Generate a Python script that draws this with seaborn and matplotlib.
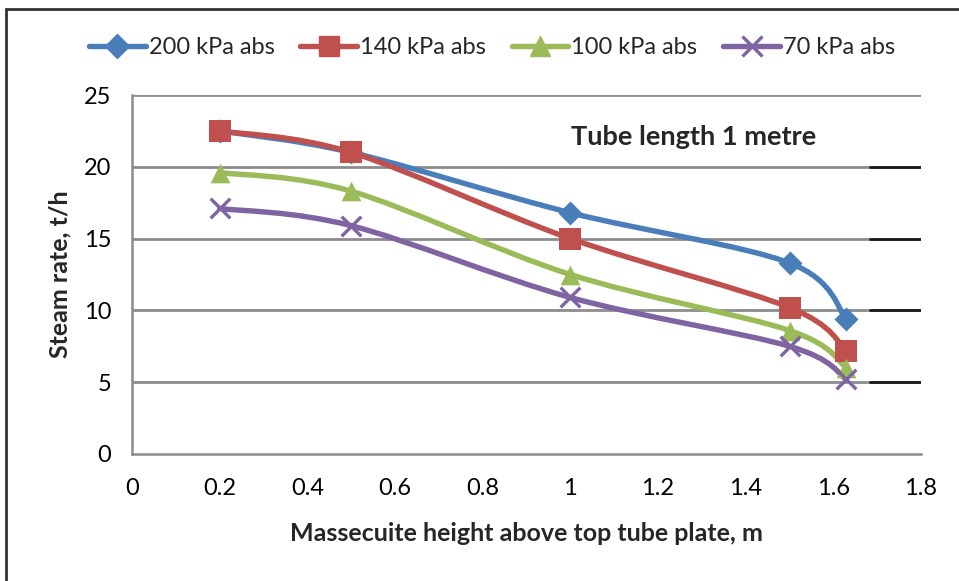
import numpy as np
import pandas as pd
import matplotlib
matplotlib.use("Agg")
import matplotlib.pyplot as plt
from matplotlib.path import Path
from matplotlib.patches import PathPatch, Rectangle
from matplotlib.lines import Line2D
import seaborn as sns

# Massecuite height above top tube plate (m)
heights = [0.2, 0.5, 1.0, 1.5, 1.63]

# Steam rate (t/h) for each absolute pressure
series_names = ["200 kPa abs", "140 kPa abs", "100 kPa abs", "70 kPa abs"]
steam_200 = [22.5, 21.0, 16.8, 13.3, 9.4]
steam_140 = [22.5, 21.0, 15.0, 10.2, 7.2]
steam_100 = [19.6, 18.3, 12.5, 8.6, 6.0]
steam_70 = [17.1, 15.9, 10.9, 7.5, 5.2]

x_ticks = [0, 0.2, 0.4, 0.6, 0.8, 1, 1.2, 1.4, 1.6, 1.8]
x_tick_labels = ["0", "0.2", "0.4", "0.6", "0.8", "1", "1.2", "1.4", "1.6", "1.8"]
y_ticks = [0, 5, 10, 15, 20, 25]

colors = ["#4A7EBB", "#C0504D", "#9BBB59", "#8064A2"]
markers = ["D", "s", "^", "x"]
marker_sizes = [150, 240, 200, 200]

rows = []
for name, vals in zip(series_names, [steam_200, steam_140, steam_100, steam_70]):
    for h, v in zip(heights, vals):
        rows.append({"series": name, "height": h, "steam": v})
df = pd.DataFrame(rows)

sns.set_theme(style="white")
plt.rcParams["font.family"] = ["Lato", "DejaVu Sans"]

fig = plt.figure(figsize=(9.59, 5.81), dpi=100)
ax = fig.add_axes([132 / 959, 1 - 454 / 581, 789 / 959, 359 / 581])

grid_col = "#8C8C8C"
ax.set_xlim(0, 1.8)
ax.set_ylim(0, 25)
ax.set_yticks(y_ticks)
ax.set_xticks(x_ticks)
ax.set_xticklabels(x_tick_labels)
for y in y_ticks[1:]:
    ax.axhline(y, color=grid_col, lw=2.0, zorder=0.5)
# darker ends of the gridlines near the right edge
for y in y_ticks[1:-1]:
    ax.axhline(y, xmin=1.684 / 1.8, xmax=1.0, color="#1A1A1A", lw=2.0, zorder=0.6)

for side in ["top", "right"]:
    ax.spines[side].set_visible(False)
for side in ["left", "bottom"]:
    ax.spines[side].set_color(grid_col)
    ax.spines[side].set_linewidth(1.8)
ax.tick_params(axis="both", which="major", direction="out", length=7, width=1.2,
               color=grid_col, labelsize=17, labelcolor="black")
ax.tick_params(axis="y", pad=8)
ax.tick_params(axis="x", pad=10)


def smooth_path(xs, ys):
    """Cubic Bezier path through the points (Catmull-Rom style control points)."""
    pts = np.column_stack([xs, ys]).astype(float)
    n = len(pts)
    verts = [pts[0]]
    codes = [Path.MOVETO]
    for i in range(n - 1):
        p0 = pts[i - 1] if i > 0 else pts[i]
        p1 = pts[i]
        p2 = pts[i + 1]
        p3 = pts[i + 2] if i + 2 < n else pts[i + 1]
        c1 = p1 + (p2 - p0) / 6.0
        c2 = p2 - (p3 - p1) / 6.0
        verts += [c1, c2, p2]
        codes += [Path.CURVE4] * 3
    return Path(verts, codes)


for i, (name, col) in enumerate(zip(series_names, colors)):
    sub = df[df["series"] == name]
    patch = PathPatch(smooth_path(sub["height"].values, sub["steam"].values),
                      facecolor="none", edgecolor=col, lw=3.9, zorder=2 + i * 0.1,
                      capstyle="round", joinstyle="round")
    ax.add_patch(patch)

for i, (name, col, mk, ms) in enumerate(zip(series_names, colors, markers, marker_sizes)):
    sub = df[df["series"] == name]
    if mk == "x":
        sns.scatterplot(data=sub, x="height", y="steam", marker=mk, s=ms, color=col,
                        linewidth=2.4, ax=ax, zorder=3 + i * 0.1, legend=False)
    else:
        sns.scatterplot(data=sub, x="height", y="steam", marker=mk, s=ms, color=col,
                        edgecolor=col, linewidth=0, ax=ax, zorder=3 + i * 0.1, legend=False)

ax.set_xlabel("Massecuite height above top tube plate, m", fontsize=18,
              fontweight="bold", labelpad=17)
ax.set_ylabel("Steam rate, t/h", fontsize=18, fontweight="bold", labelpad=9)

ax.text(1.001, 22.1, "Tube length 1 metre", fontsize=19.5, fontweight="bold",
        ha="left", va="center")

handles = []
for name, col, mk in zip(series_names, colors, markers):
    kw = dict(markersize=14 if mk != "D" else 12)
    if mk == "x":
        kw.update(markeredgewidth=2.4)
    handles.append(Line2D([0], [0], color=col, lw=3.9, marker=mk, markerfacecolor=col,
                          markeredgecolor=col, **kw))
fig.legend(handles, series_names, loc="center", bbox_to_anchor=(492 / 959, 1 - 48 / 581),
           ncol=4, frameon=False, fontsize=17, handlelength=2.4, handletextpad=0.12,
           columnspacing=1.1, borderaxespad=0)

# outer chart border
fig.patches.append(Rectangle((6 / 959, -0.05), 1.2, 1 - 9 / 581 + 0.05,
                             transform=fig.transFigure, fill=False,
                             edgecolor="#333333", lw=2.0))

fig.savefig("out.png", dpi=100)
